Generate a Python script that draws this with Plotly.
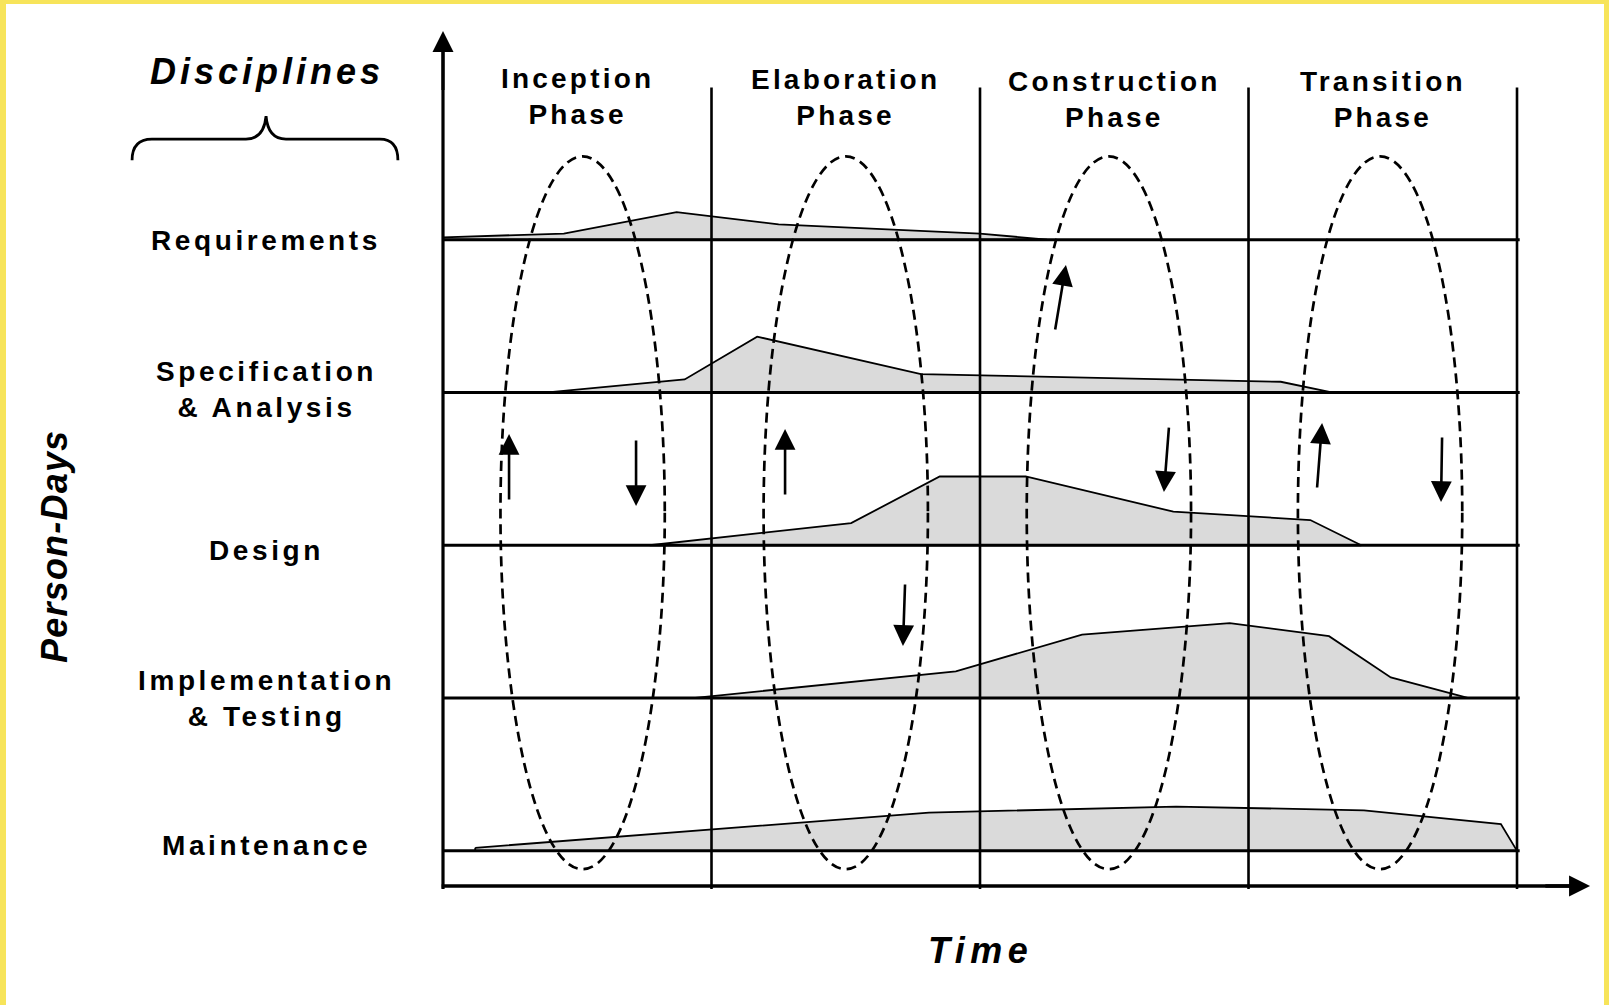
import plotly.graph_objects as go

# ---------------- data ----------------
phase_names = ["Inception", "Elaboration", "Construction", "Transition"]
phase_mid = [0.5, 1.5, 2.5, 3.5]          # time position of each phase label
phase_end = [1, 2, 3, 4]                  # phase boundaries (time)

disciplines = ["Requirements", "Specification|& Analysis", "Design",
               "Implementation|& Testing", "Maintenance"]

# effort profiles: time (phase units) and person-days above the row baseline
req_t = [0.0, 0.45, 0.87, 1.25, 2.0, 2.25]
req_e = [1.5, 4, 18, 10, 4, 0]
spec_t = [0.39, 0.90, 1.17, 1.78, 3.12, 3.31]
spec_e = [0, 8.5, 36.5, 12, 7, 0]
design_t = [0.77, 1.52, 1.85, 2.17, 2.72, 3.23, 3.42]
design_e = [0, 14.5, 45, 45, 22, 16.5, 0]
impl_t = [0.93, 1.91, 2.38, 2.93, 3.30, 3.53, 3.82]
impl_e = [0, 17.5, 41.5, 49, 40.5, 13.5, 0]
maint_t = [0.12, 1.81, 2.73, 3.43, 3.94, 4.0]
maint_e = [2, 25, 29, 26.5, 17.5, 0]

profiles_t = [req_t, spec_t, design_t, impl_t, maint_t]
profiles_e = [req_e, spec_e, design_e, impl_e, maint_e]

# ---------------- layout constants ----------------
W, H = 1609, 1005
ROW_GAP = 100
ROW0 = 23
row_base = [ROW0 + ROW_GAP * (len(disciplines) - 1 - i) for i in range(len(disciplines))]

X_RANGE = [-1.6499, 4.3426]
Y_RANGE = [-77.88, 579.84]

FONT = "Liberation Sans, Arial, sans-serif"
FILL = "rgb(218,218,218)"
YELLOW = "#F7E45A"

fig = go.Figure()

# effort areas
for i, (ts, es) in enumerate(zip(profiles_t, profiles_e)):
    b = row_base[i]
    xs = list(ts) + [ts[-1], ts[0], ts[0]]
    ys = [b + e for e in es] + [b, b, b + es[0]]
    fig.add_trace(go.Scatter(x=xs, y=ys, mode="lines", fill="toself",
                             fillcolor=FILL, line=dict(color="black", width=1.8),
                             hoverinfo="skip", showlegend=False))

shapes = []
# row baselines
for b in row_base:
    shapes.append(dict(type="line", xref="x", yref="y", x0=0, x1=4.01, y0=b, y1=b,
                       line=dict(color="black", width=3)))
# phase boundary lines
for t in phase_end:
    shapes.append(dict(type="line", xref="x", yref="y", x0=t, x1=t, y0=-2, y1=522.5,
                       line=dict(color="black", width=2.6)))
# axes lines
shapes.append(dict(type="line", xref="x", yref="y", x0=0, x1=0, y0=-2, y1=550,
                   line=dict(color="black", width=3.2)))
shapes.append(dict(type="line", xref="x", yref="y", x0=-0.005, x1=4.22, y0=0, y1=0,
                   line=dict(color="black", width=3.6)))
# iteration ellipses
ell_center = [0.52, 1.50, 2.48, 3.49]
ELL_HW = 0.306
for c in ell_center:
    shapes.append(dict(type="circle", xref="x", yref="y", x0=c - ELL_HW, x1=c + ELL_HW,
                       y0=11, y1=477.5, line=dict(color="black", width=2.7, dash="10px,6px")))
# brace under "Disciplines"
brace = ("M -1.158,475.0 Q -1.158,488.8 -1.084,488.8 L -0.734,488.8 "
         "Q -0.667,488.8 -0.659,503.8 Q -0.652,488.8 -0.585,488.8 "
         "L -0.235,488.8 Q -0.168,488.8 -0.168,475.0")
shapes.append(dict(type="path", xref="x", yref="y", path=brace,
                   line=dict(color="black", width=2.8)))
# yellow frame
shapes.append(dict(type="rect", xref="paper", yref="paper", x0=0, x1=1, y0=1 - 4 / H, y1=1,
                   fillcolor=YELLOW, line=dict(width=0)))
shapes.append(dict(type="rect", xref="paper", yref="paper", x0=0, x1=6 / W, y0=0, y1=1,
                   fillcolor=YELLOW, line=dict(width=0)))
shapes.append(dict(type="rect", xref="paper", yref="paper", x0=1 - 5 / W, x1=1, y0=0, y1=1,
                   fillcolor=YELLOW, line=dict(width=0)))

ann = []


def spaced(txt, sp):
    return "<br>".join('<span style="letter-spacing:%spx">%s</span>' % (sp, p)
                       for p in txt.split("|"))


# phase labels
phase_shift = [0, -1, -3, -3]
for name, m, s in zip(phase_names, phase_mid, phase_shift):
    ann.append(dict(x=m, y=516.5, yshift=s, xref="x", yref="y", text=spaced(name + "|Phase", 3.2),
                    showarrow=False, xanchor="center", yanchor="middle",
                    font=dict(family=FONT, size=28, color="black", weight="bold")))
# discipline labels
lab_shift = [-1, 3, -5, 0, 5]
for d, b, s in zip(disciplines, row_base, lab_shift):
    ann.append(dict(x=-0.659, y=b, yshift=s, xref="x", yref="y", text=spaced(d, 3.6),
                    showarrow=False, xanchor="center", yanchor="middle",
                    font=dict(family=FONT, size=28, color="black", weight="bold")))
# titles
ann.append(dict(x=-0.6555, y=533, xref="x", yref="y", text=spaced("Disciplines", 4),
                showarrow=False, xanchor="center", yanchor="middle",
                font=dict(family=FONT, size=36, color="black", weight="bold", style="italic")))
ann.append(dict(x=2.0, y=-41.9, xref="x", yref="y", text=spaced("Time", 5.5),
                showarrow=False, xanchor="center", yanchor="middle",
                font=dict(family=FONT, size=36, color="black", weight="bold", style="italic")))
ann.append(dict(x=-1.449, y=222.5, xref="x", yref="y", text=spaced("Person-Days", 1.2),
                textangle=-90, showarrow=False, xanchor="center", yanchor="middle",
                font=dict(family=FONT, size=36, color="black", weight="bold", style="italic")))

# axis arrow heads
ann.append(dict(x=0, y=559.6, ax=0, ay=520, xref="x", yref="y", axref="x", ayref="y",
                text="", showarrow=True, arrowhead=2, arrowsize=1.4, arrowwidth=3,
                arrowcolor="black", standoff=0, startstandoff=0))
ann.append(dict(x=4.272, y=0, ax=4.1, ay=0, xref="x", yref="y", axref="x", ayref="y",
                text="", showarrow=True, arrowhead=2, arrowsize=1.2, arrowwidth=3.5,
                arrowcolor="black", standoff=0, startstandoff=0))

# iteration feedback arrows (tail t, tail y, tip t, tip y)
feedback = [(0.246, 252.0, 0.246, 295.8), (0.719, 292.5, 0.719, 248.7),
            (1.274, 255.2, 1.274, 299.1), (1.721, 198.3, 1.713, 157.1),
            (2.279, 363.2, 2.320, 406.4), (2.704, 301.0, 2.685, 257.9),
            (3.255, 259.8, 3.274, 303.0), (3.721, 294.5, 3.717, 251.3)]
for t0, y0, t1, y1 in feedback:
    ann.append(dict(x=t1, y=y1, ax=t0, ay=y0, xref="x", yref="y", axref="x", ayref="y",
                    text="", showarrow=True, arrowhead=2, arrowsize=1.6, arrowwidth=2.6,
                    arrowcolor="black", standoff=0, startstandoff=0))

fig.update_layout(
    width=W, height=H, margin=dict(l=0, r=0, t=0, b=0),
    paper_bgcolor="white", plot_bgcolor="white",
    xaxis=dict(range=X_RANGE, visible=False, fixedrange=True),
    yaxis=dict(range=Y_RANGE, visible=False, fixedrange=True),
    shapes=shapes, annotations=ann, showlegend=False,
)

fig.write_html("out.html", config={"displayModeBar": False},
               post_script="document.body.style.margin='0';document.body.style.overflow='hidden';")
